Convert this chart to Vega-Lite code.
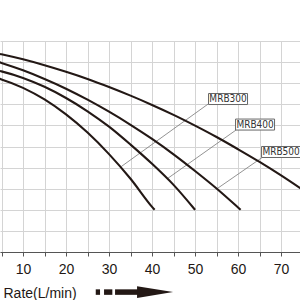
{
  "$schema": "https://vega.github.io/schema/vega-lite/v6.json",
  "width": 300,
  "height": 211,
  "autosize": {"type": "none"},
  "padding": {"left": 0, "top": 41, "right": 0, "bottom": 48},
  "background": "white",
  "config": {
    "view": {"stroke": null},
    "axisX": {
      "grid": true, "gridColor": "#d4d4d4", "gridWidth": 1,
      "domainColor": "#555", "domainWidth": 1.2,
      "tickColor": "#555", "tickSize": 4, "tickWidth": 1,
      "labelPadding": 6, "labelFontSize": 14, "labelFont": "Liberation Sans", "labelColor": "#231815",
      "labelOverlap": false,
      "titleFont": "Liberation Sans", "titleFontSize": 14, "titleFontWeight": "normal", "titleColor": "#231815",
      "titleAnchor": "start", "titleAlign": "left", "titleBaseline": "alphabetic", "titleX": 3, "titleY": 45
    },
    "axisY": {
      "grid": true, "gridColor": "#d4d4d4", "gridWidth": 1,
      "labels": false, "ticks": false, "domain": false
    }
  },
  "datasets": {
    "curves": [
      {"pump": "MRB300", "q": 0, "h": 8.42},
      {"pump": "MRB300", "q": 5, "h": 8.18},
      {"pump": "MRB300", "q": 10, "h": 7.78},
      {"pump": "MRB300", "q": 15, "h": 7.23},
      {"pump": "MRB300", "q": 20, "h": 6.52},
      {"pump": "MRB300", "q": 25, "h": 5.66},
      {"pump": "MRB300", "q": 30, "h": 4.64},
      {"pump": "MRB300", "q": 35, "h": 3.47},
      {"pump": "MRB300", "q": 40, "h": 2.14},
      {"pump": "MRB300", "q": 40.6, "h": 2.0},
      {"pump": "MRB400", "q": 0, "h": 8.77},
      {"pump": "MRB400", "q": 5, "h": 8.56},
      {"pump": "MRB400", "q": 10, "h": 8.25},
      {"pump": "MRB400", "q": 15, "h": 7.83},
      {"pump": "MRB400", "q": 20, "h": 7.3},
      {"pump": "MRB400", "q": 25, "h": 6.67},
      {"pump": "MRB400", "q": 30, "h": 5.94},
      {"pump": "MRB400", "q": 35, "h": 5.09},
      {"pump": "MRB400", "q": 40, "h": 4.18},
      {"pump": "MRB400", "q": 45, "h": 3.18},
      {"pump": "MRB400", "q": 50, "h": 2.0},
      {"pump": "MRB500", "q": 0, "h": 9.26},
      {"pump": "MRB500", "q": 5, "h": 8.96},
      {"pump": "MRB500", "q": 10, "h": 8.61},
      {"pump": "MRB500", "q": 15, "h": 8.2},
      {"pump": "MRB500", "q": 20, "h": 7.74},
      {"pump": "MRB500", "q": 25, "h": 7.22},
      {"pump": "MRB500", "q": 30, "h": 6.65},
      {"pump": "MRB500", "q": 35, "h": 6.03},
      {"pump": "MRB500", "q": 40, "h": 5.36},
      {"pump": "MRB500", "q": 45, "h": 4.63},
      {"pump": "MRB500", "q": 50, "h": 3.84},
      {"pump": "MRB500", "q": 55, "h": 3.01},
      {"pump": "MRB500", "q": 60, "h": 2.11},
      {"pump": "MRB500", "q": 60.6, "h": 2.0},
      {"pump": "MRB600", "q": 0, "h": 9.58},
      {"pump": "MRB600", "q": 5, "h": 9.37},
      {"pump": "MRB600", "q": 10, "h": 9.13},
      {"pump": "MRB600", "q": 15, "h": 8.85},
      {"pump": "MRB600", "q": 20, "h": 8.54},
      {"pump": "MRB600", "q": 25, "h": 8.2},
      {"pump": "MRB600", "q": 30, "h": 7.82},
      {"pump": "MRB600", "q": 35, "h": 7.41},
      {"pump": "MRB600", "q": 40, "h": 6.97},
      {"pump": "MRB600", "q": 45, "h": 6.5},
      {"pump": "MRB600", "q": 50, "h": 5.99},
      {"pump": "MRB600", "q": 55, "h": 5.45},
      {"pump": "MRB600", "q": 60, "h": 4.87},
      {"pump": "MRB600", "q": 65, "h": 4.27},
      {"pump": "MRB600", "q": 70, "h": 3.63},
      {"pump": "MRB600", "q": 75, "h": 2.95},
      {"pump": "MRB600", "q": 80, "h": 2.25},
      {"pump": "MRB600", "q": 81.5, "h": 2.0}
    ],
    "labels": [
      {"label": "MRB300", "q": 57.67, "h": 7.25, "fromQ": 53.02, "fromH": 7.01, "toQ": 32.85, "toH": 4.05},
      {"label": "MRB400", "q": 63.95, "h": 6.04, "fromQ": 59.53, "fromH": 5.78, "toQ": 43.72, "toH": 3.5},
      {"label": "MRB500", "q": 70.0, "h": 4.74, "fromQ": 65.6, "fromH": 4.48, "toQ": 55.12, "toH": 3.0}
    ],
    "arrowParts": [
      {"q0": 26.91, "q1": 27.91, "h": -1.9},
      {"q0": 28.84, "q1": 30.77, "h": -1.9},
      {"q0": 31.4, "q1": 38.5, "h": -1.9}
    ],
    "arrowHead": [
      {"q": 40.7, "h": -1.9}
    ]
  },
  "layer": [
    {
      "data": {"name": "labels"},
      "mark": {"type": "rule", "color": "#777", "strokeWidth": 0.8},
      "encoding": {
        "x": {"field": "fromQ", "type": "quantitative", "scale": {"domain": [4.65, 74.4], "nice": false, "zero": false},
              "axis": {"values": [5, 10, 15, 20, 25, 30, 35, 40, 45, 50, 55, 60, 65, 70], "labelExpr": "datum.value % 10 === 0 ? datum.label : ''", "title": "Rate(L/min)"}},
        "y": {"field": "fromH", "type": "quantitative", "scale": {"domain": [0, 10], "nice": false, "zero": false},
              "axis": {"values": [0, 1, 2, 3, 4, 5, 6, 7, 8, 9, 10], "title": null}},
        "x2": {"field": "toQ"},
        "y2": {"field": "toH"}
      }
    },
    {
      "data": {"name": "curves"},
      "mark": {"type": "line", "interpolate": "monotone", "clip": true, "color": "#231815", "strokeWidth": 2.1},
      "encoding": {
        "x": {"field": "q", "type": "quantitative", "scale": {"domain": [4.65, 74.4], "nice": false, "zero": false},
              "axis": {"values": [5, 10, 15, 20, 25, 30, 35, 40, 45, 50, 55, 60, 65, 70], "labelExpr": "datum.value % 10 === 0 ? datum.label : ''", "title": "Rate(L/min)"}},
        "y": {"field": "h", "type": "quantitative", "scale": {"domain": [0, 10], "nice": false, "zero": false},
              "axis": {"values": [0, 1, 2, 3, 4, 5, 6, 7, 8, 9, 10], "title": null}},
        "detail": {"field": "pump"}
      }
    },
    {
      "data": {"name": "labels"},
      "mark": {"type": "point", "shape": "M-1,-0.282H1V0.282H-1Z", "size": 1521, "filled": true, "fill": "white", "stroke": "#666", "strokeWidth": 1, "opacity": 1},
      "encoding": {
        "x": {"field": "q", "type": "quantitative", "scale": {"domain": [4.65, 74.4], "nice": false, "zero": false},
              "axis": {"values": [5, 10, 15, 20, 25, 30, 35, 40, 45, 50, 55, 60, 65, 70], "labelExpr": "datum.value % 10 === 0 ? datum.label : ''", "title": "Rate(L/min)"}},
        "y": {"field": "h", "type": "quantitative", "scale": {"domain": [0, 10], "nice": false, "zero": false},
              "axis": {"values": [0, 1, 2, 3, 4, 5, 6, 7, 8, 9, 10], "title": null}}
      }
    },
    {
      "data": {"name": "labels"},
      "mark": {"type": "text", "font": "Liberation Sans Narrow, DejaVu Sans Condensed, Liberation Sans", "fontSize": 10, "color": "#333", "align": "center", "baseline": "middle"},
      "encoding": {
        "x": {"field": "q", "type": "quantitative", "scale": {"domain": [4.65, 74.4], "nice": false, "zero": false},
              "axis": {"values": [5, 10, 15, 20, 25, 30, 35, 40, 45, 50, 55, 60, 65, 70], "labelExpr": "datum.value % 10 === 0 ? datum.label : ''", "title": "Rate(L/min)"}},
        "y": {"field": "h", "type": "quantitative", "scale": {"domain": [0, 10], "nice": false, "zero": false},
              "axis": {"values": [0, 1, 2, 3, 4, 5, 6, 7, 8, 9, 10], "title": null}},
        "text": {"field": "label"}
      }
    },
    {
      "mark": {"type": "rule", "color": "#666", "strokeWidth": 1.5},
      "encoding": {
        "y": {"datum": 10, "type": "quantitative", "scale": {"domain": [0, 10], "nice": false, "zero": false},
              "axis": {"values": [0, 1, 2, 3, 4, 5, 6, 7, 8, 9, 10], "title": null}}
      }
    },
    {
      "data": {"name": "arrowParts"},
      "mark": {"type": "rule", "color": "#231815", "strokeWidth": 5.5, "strokeCap": "butt", "clip": false},
      "encoding": {
        "x": {"field": "q0", "type": "quantitative", "scale": {"domain": [4.65, 74.4], "nice": false, "zero": false},
              "axis": {"values": [5, 10, 15, 20, 25, 30, 35, 40, 45, 50, 55, 60, 65, 70], "labelExpr": "datum.value % 10 === 0 ? datum.label : ''", "title": "Rate(L/min)"}},
        "x2": {"field": "q1"},
        "y": {"field": "h", "type": "quantitative", "scale": {"domain": [0, 10], "nice": false, "zero": false},
              "axis": {"values": [0, 1, 2, 3, 4, 5, 6, 7, 8, 9, 10], "title": null}}
      }
    },
    {
      "data": {"name": "arrowHead"},
      "mark": {"type": "point", "shape": "M-1,-0.33L1,0L-1,0.33Z", "size": 1296, "filled": true, "color": "#231815", "opacity": 1, "clip": false},
      "encoding": {
        "x": {"field": "q", "type": "quantitative", "scale": {"domain": [4.65, 74.4], "nice": false, "zero": false},
              "axis": {"values": [5, 10, 15, 20, 25, 30, 35, 40, 45, 50, 55, 60, 65, 70], "labelExpr": "datum.value % 10 === 0 ? datum.label : ''", "title": "Rate(L/min)"}},
        "y": {"field": "h", "type": "quantitative", "scale": {"domain": [0, 10], "nice": false, "zero": false},
              "axis": {"values": [0, 1, 2, 3, 4, 5, 6, 7, 8, 9, 10], "title": null}}
      }
    }
  ]
}
